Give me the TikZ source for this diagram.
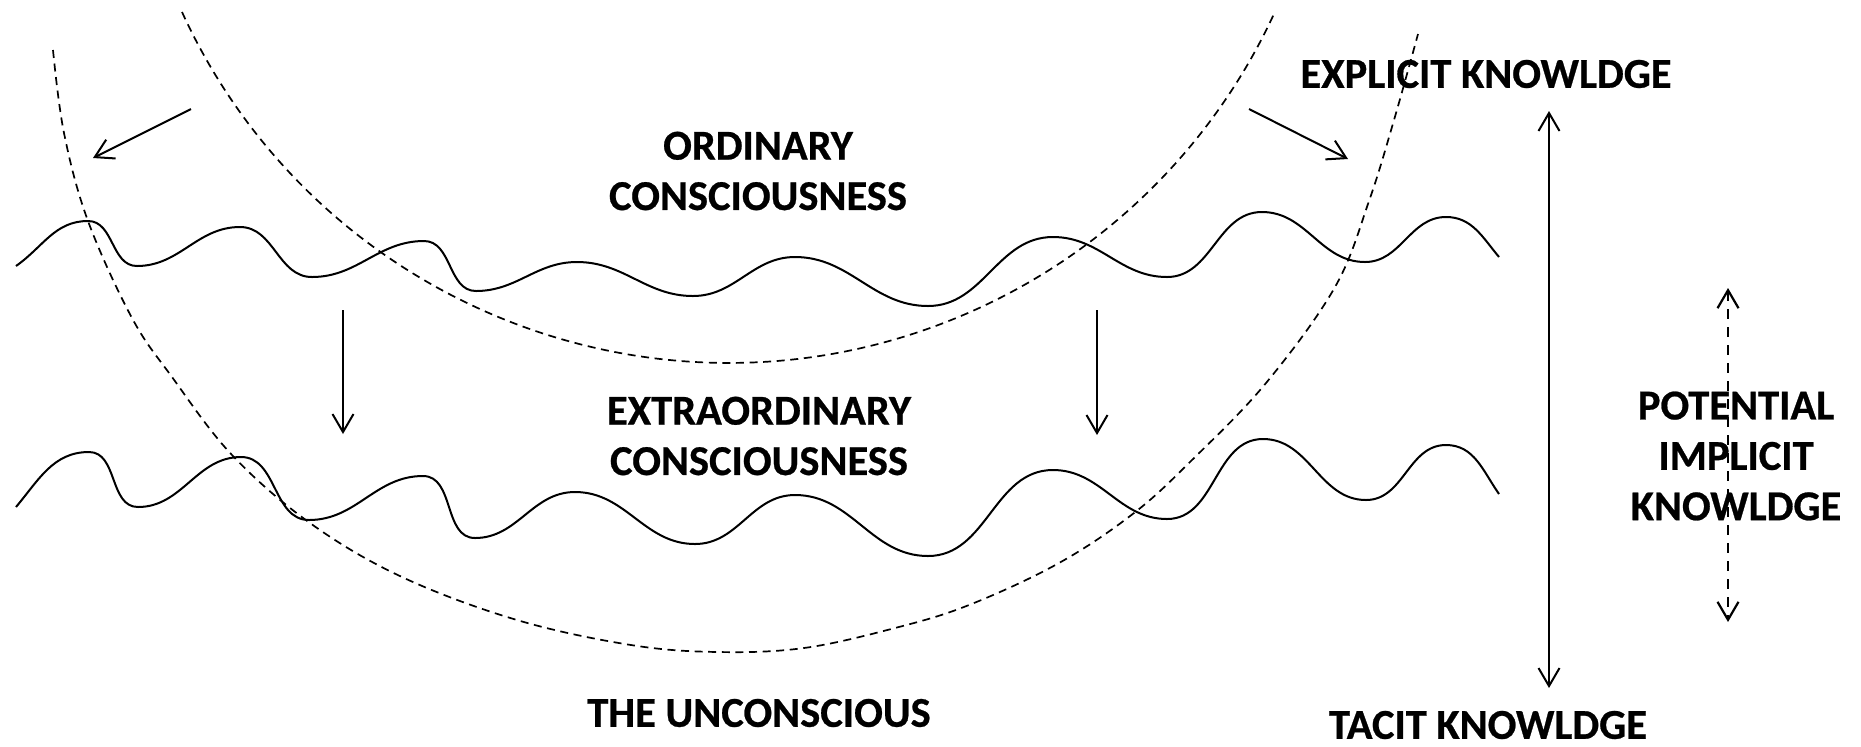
\documentclass[tikz,border=0pt]{standalone}
\usepackage{fontspec}
\setmainfont{Carlito}[BoldFeatures={FakeBold=0.6}]
\usetikzlibrary{arrows.meta}

\begin{document}
\begin{tikzpicture}[
  x=0.5pt, y=-0.5pt,
  lbl/.style ={align=center, inner sep=0pt,
               font=\bfseries\fontsize{21.25pt}{25.2pt}\selectfont},
  wave/.style={line width=1pt, line join=round},
  wv/.style  ={out=0, in=180},
  rim/.style ={line width=0.85pt, dash pattern=on 4pt off 2.8pt},
  arr/.style ={-{Straight Barb[length=9pt, width=10.5pt]}, line width=1pt},
  darr/.style={{Straight Barb[length=9pt, width=10.5pt]}-{Straight Barb[length=9pt, width=10.5pt]},
               line width=1pt},
  parr/.style={darr, line width=1.1pt, dash pattern=on 5pt off 4pt},
]
\useasboundingbox (0,0) rectangle (1861,746);

% ---- boundaries of consciousness ----
\draw[rim] (182,12) arc[start angle=155.4, end angle=24.8, radius=601];
\draw[rim] plot[smooth, tension=0.6] coordinates {
  (53,50) (64,133) (88,221) (132,318) (172,377) (232,455) (310,523)
  (402,577) (517,620) (631,645) (718,652) (804,648) (895,628) (969,605)
  (1059,563) (1134,513) (1192,460) (1266,383) (1335,287) (1369,201)
  (1394,120) (1418,34)};

% ---- surface waves ----
\draw[wave] (16,266) to[out=35,in=180] (88,221) to[wv] (137,266) to[wv] (240,227)
  to[wv] (312,277) to[wv] (424,241) to[wv] (476,291) to[wv] (577,262)
  to[wv] (693,296) to[wv] (795,257) to[wv] (928,306) to[wv] (1053,237)
  to[wv] (1167,277) to[wv] (1262,212) to[wv] (1365,262) to[wv] (1446,217)
  to[out=0,in=130] (1499,257);
\draw[wave] (16,507) to[out=50,in=180] (89,452) to[wv] (138,507) to[wv] (241,457)
  to[wv] (309,520) to[wv] (423,476) to[wv] (475,538) to[wv] (575,492)
  to[wv] (695,544) to[wv] (795,495) to[wv] (928,556) to[wv] (1053,470)
  to[wv] (1167,519) to[wv] (1263,439) to[wv] (1366,500) to[wv] (1446,445)
  to[out=0,in=125] (1499,494);

% ---- labels ----
\node[lbl] (ord)   at (758,171)  {ORDINARY\\CONSCIOUSNESS};
\node[lbl] (extra) at (759,436)  {EXTRAORDINARY\\CONSCIOUSNESS};
\node[lbl] (uncon) at (759,713)  {THE UNCONSCIOUS};
\node[lbl] (expl)  at (1486,74)  {EXPLICIT KNOWLDGE};
\node[lbl] (tacit) at (1488,725) {TACIT KNOWLDGE};
\node[lbl] (pot)   at (1736,456) {POTENTIAL\\IMPLICIT\\KNOWLDGE};

% ---- arrow ends ----
\coordinate (la0) at (191,109);  \coordinate (la1) at (93,158);
\coordinate (ra0) at (1249,109); \coordinate (ra1) at (1348,159);
\coordinate (d10) at (343,310);  \coordinate (d11) at (343,434);
\coordinate (d20) at (1097,310); \coordinate (d21) at (1097,435);
\coordinate (kt)  at (1549,111); \coordinate (kb)  at (1549,688);
\coordinate (pt)  at (1728,288); \coordinate (pb)  at (1728,622);

% ---- arrows ----
\draw[arr] (la0) -- (la1);
\draw[arr] (ra0) -- (ra1);
\draw[arr] (d10) -- (d11);
\draw[arr] (d20) -- (d21);
\draw[darr] (kt) -- (kb);
\draw[parr] (pt) -- (pb);

\end{tikzpicture}
\end{document}
